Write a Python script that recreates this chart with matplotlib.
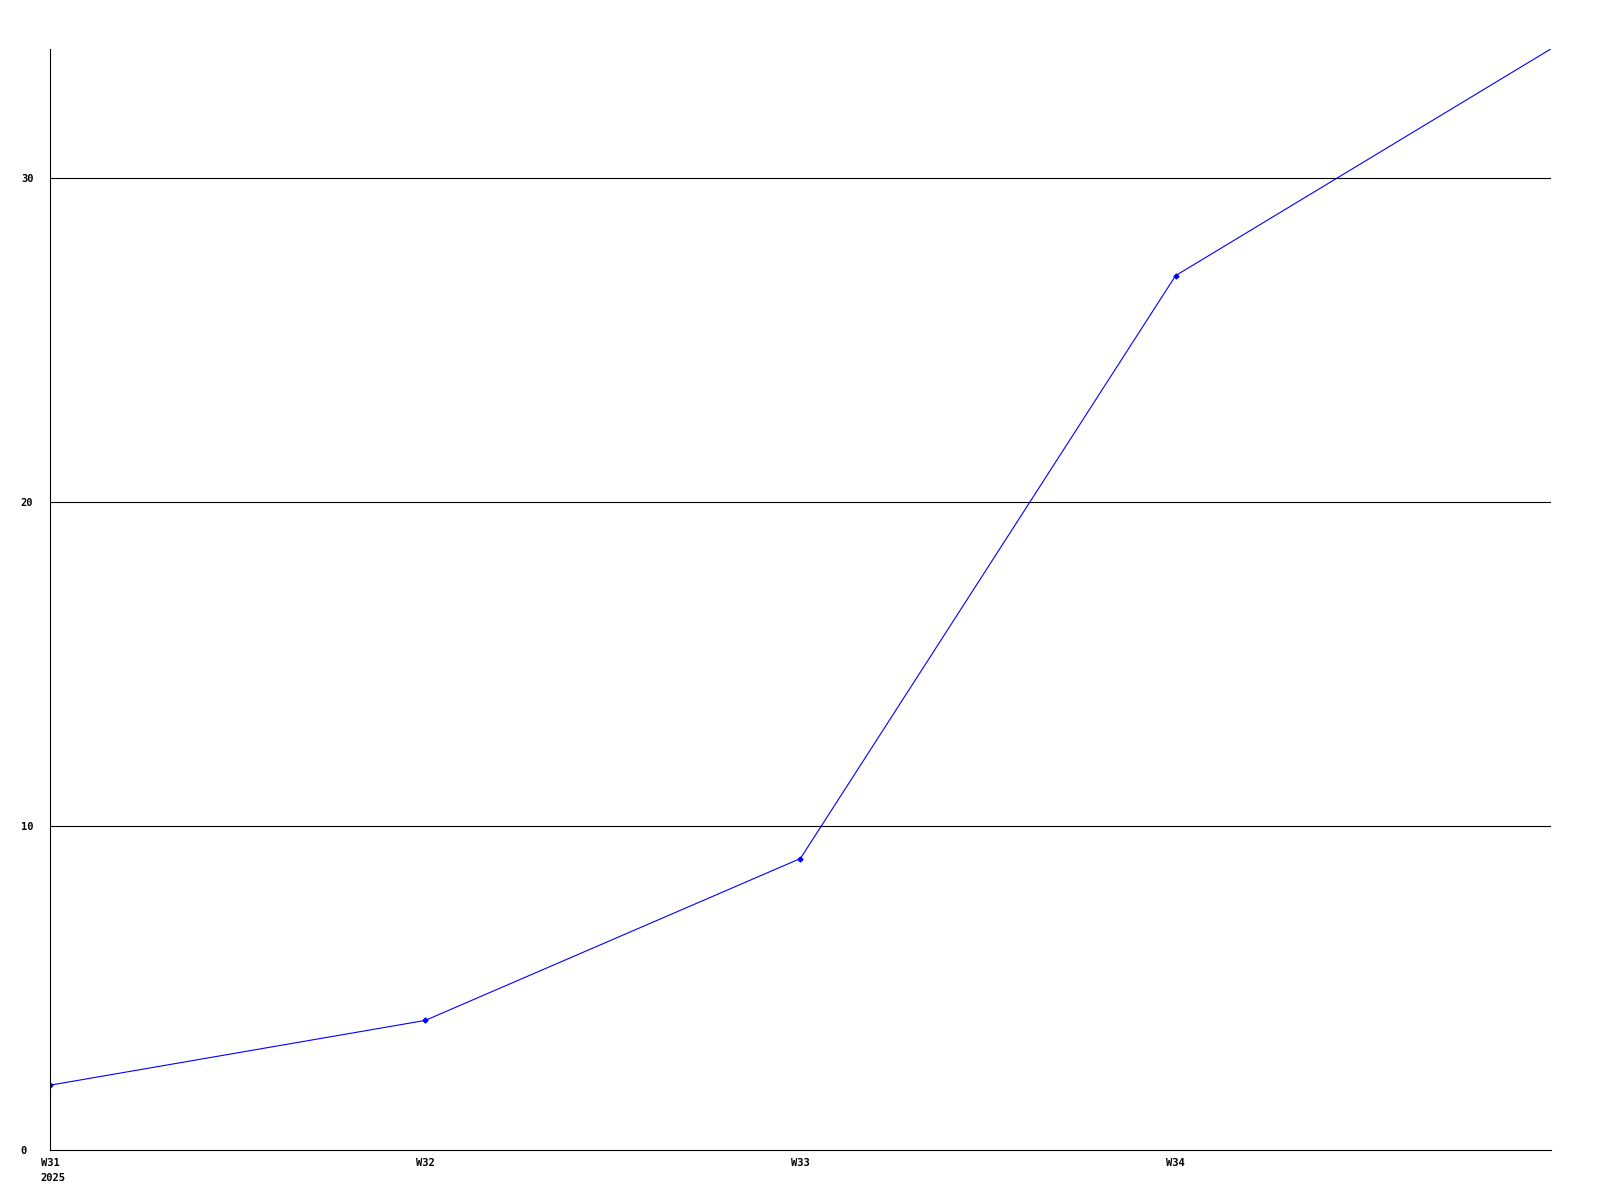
import matplotlib
matplotlib.use("Agg")
import matplotlib.pyplot as plt
from matplotlib.transforms import blended_transform_factory, ScaledTranslation

weeks = ["W31", "W32", "W33", "W34", ""]
values = [2, 4, 9, 27, 34]
year = "2025"
yticks = [0, 10, 20, 30]

plt.rcParams['font.family'] = ['DejaVu Sans Mono']
plt.rcParams['font.weight'] = 'bold'
plt.rcParams['font.size'] = 7.5

fig = plt.figure(figsize=(16, 12), dpi=100)
ax = fig.add_axes([0.03125, 0.0417, 0.938, 0.9175])

x = list(range(len(values)))
ax.plot(x, values, color='#0000ff', linewidth=0.8, marker='D', markersize=2.5,
        markevery=list(range(len(values) - 1)))

ax.set_xlim(0, len(values) - 1)
ax.set_ylim(0, 34)
ax.set_yticks(yticks)
ax.set_yticklabels([str(v) for v in yticks], ha='left')
ax.set_xticks(x[:-1])
ax.set_xticklabels(weeks[:-1])
ax.tick_params(length=0)
ax.tick_params(axis='y', pad=21)
ax.tick_params(axis='x', pad=6)

for v in yticks[1:]:
    ax.axhline(v, color='black', linewidth=0.8, zorder=0)

for s in ['top', 'right']:
    ax.spines[s].set_visible(False)
for s in ['left', 'bottom']:
    ax.spines[s].set_color('black')
    ax.spines[s].set_linewidth(0.8)

trans = blended_transform_factory(ax.transData, ax.transAxes) + \
    ScaledTranslation(-10 / 100, 0, fig.dpi_scale_trans)
ax.text(x[0], -0.021, year, transform=trans, ha='left', va='top',
        fontweight='bold', fontsize=7.5)

fig.savefig("out.png", dpi=100)
